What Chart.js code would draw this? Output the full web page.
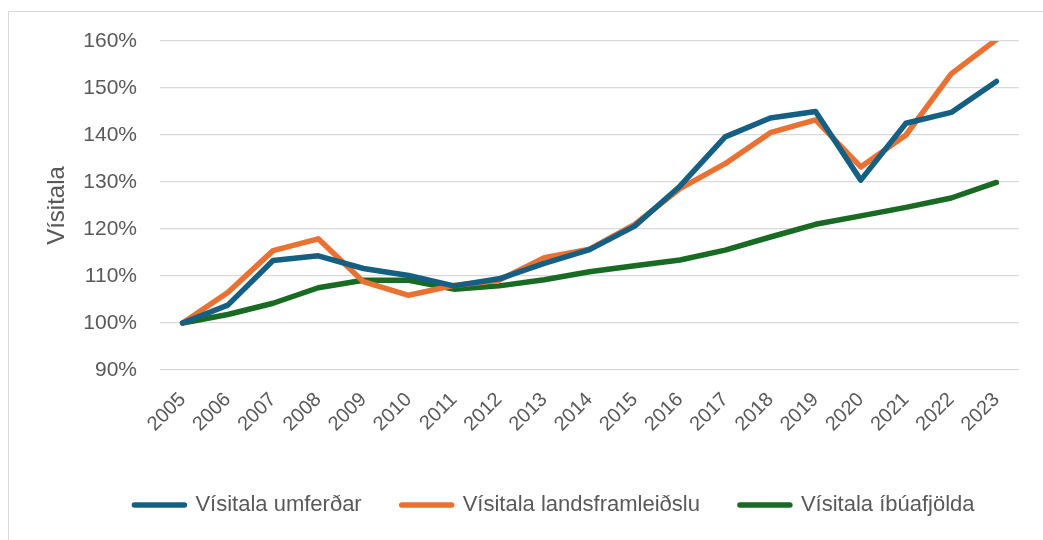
<!DOCTYPE html>
<html>
<head>
<meta charset="utf-8">
<script src="https://cdn.jsdelivr.net/npm/chart.js@4.4.1/dist/chart.umd.min.js"></script>
<style>
  html, body { margin: 0; padding: 0; background: #fff; overflow: hidden; }
  #wrap { position: relative; width: 1043px; height: 540px; }
  #frame { position: absolute; left: 8px; top: 11px; right: -5px; bottom: -5px;
           border-left: 1px solid #d9d9d9; border-top: 1px solid #d9d9d9; }
  #chart { position: absolute; left: 0; top: 0; }
</style>
</head>
<body>
<div id="wrap">
  <div id="frame"></div>
  <canvas id="chart" width="1043" height="540"></canvas>
</div>
<script>
const years = ["2005", "2006", "2007", "2008", "2009", "2010", "2011", "2012", "2013", "2014",
  "2015", "2016", "2017", "2018", "2019", "2020", "2021", "2022", "2023"];

// Vísitölur, 2005 = 100%
const umferd = [100, 103.8, 113.3, 114.3, 111.6, 110.1, 107.9, 109.4, 112.7, 115.6,
  120.6, 129.1, 139.6, 143.6, 145.0, 130.4, 142.5, 144.8, 151.4];
const landsframleidsla = [100, 106.5, 115.4, 117.9, 108.8, 105.9, 108.0, 109.1, 113.9, 115.7,
  121.0, 128.6, 133.9, 140.5, 143.2, 133.2, 140.0, 153.0, 160.3];
const ibuafjoldi = [100, 101.8, 104.2, 107.5, 109.1, 109.1, 107.2, 107.9, 109.2, 110.9,
  112.2, 113.4, 115.5, 118.3, 121.0, 122.8, 124.6, 126.6, 129.9];

const textColor = "#595959";
const gridColor = "#d9d9d9";

function serie(label, data, color) {
  return {
    label: label,
    data: data,
    borderColor: color,
    backgroundColor: color,
    borderWidth: 5.5,
    borderCapStyle: "round",
    borderJoinStyle: "round",
    pointRadius: 0,
    pointHoverRadius: 0,
    tension: 0,
    fill: false,
  };
}

// færir skýringuna til hliðar svo hún lendi á sama stað og í Excel
const legendShift = {
  id: "legendShift",
  afterLayout(chart) {
    const dx = 45;
    chart.legend.left += dx;
    chart.legend.right += dx;
  },
};

new Chart(document.getElementById("chart"), {
  type: "line",
  data: {
    labels: years,
    datasets: [
      serie("Vísitala umferðar", umferd, "#156082"),
      serie("Vísitala landsframleiðslu", landsframleidsla, "#E97132"),
      serie("Vísitala íbúafjölda", ibuafjoldi, "#196B24"),
    ],
  },
  options: {
    responsive: false,
    animation: false,
    layout: { padding: { left: 0, right: 24, top: 41, bottom: 14 } },
    plugins: {
      tooltip: { enabled: false },
      legend: {
        position: "bottom",
        labels: {
          color: textColor,
          font: { family: "Liberation Sans", size: 22 },
          boxWidth: 50,
          boxHeight: 0,
          padding: 40,
        },
      },
    },
    scales: {
      x: {
        offset: true,
        grid: { display: false },
        border: { display: false },
        ticks: {
          color: textColor,
          font: { family: "Liberation Sans", size: 20 },
          autoSkip: false,
          maxRotation: 45,
          minRotation: 45,
          padding: 10,
        },
        afterFit(axis) {
          axis.height = 84;
        },
      },
      y: {
        min: 90,
        max: 160,
        grid: { color: gridColor, lineWidth: 1.3, drawTicks: false },
        border: { display: false },
        ticks: {
          stepSize: 10,
          color: textColor,
          font: { family: "Liberation Sans", size: 21 },
          padding: 23,
          callback: (v) => v + "%",
        },
        title: {
          display: true,
          text: "Vísitala",
          color: textColor,
          font: { family: "Liberation Sans", size: 24 },
          padding: { top: 43, bottom: 0 },
        },
        afterFit(axis) {
          axis.width = 160;
        },
      },
    },
  },
  plugins: [legendShift],
});
</script>
</body>
</html>
